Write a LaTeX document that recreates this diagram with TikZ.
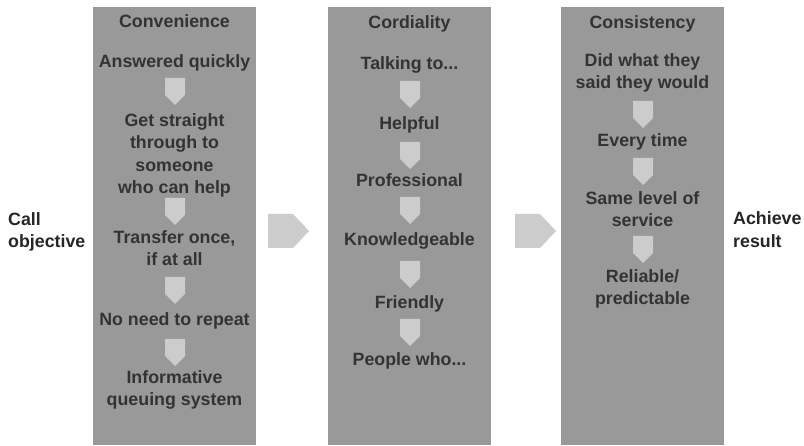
\documentclass[tikz,border=0pt]{standalone}
\usepackage{fontspec}
\setmainfont{Liberation Sans}
\definecolor{colgray}{HTML}{999999}
\definecolor{tipgray}{HTML}{CCCCCC}
\definecolor{ink}{HTML}{333333}
\definecolor{outink}{HTML}{262626}
\begin{document}
\begin{tikzpicture}[x=1pt,y=-1pt,
  % multi-line labels are placed by the baseline of their last line
  lbl/.style={font=\fontsize{17.8}{22.3}\selectfont\bfseries, text=ink,
    inner sep=0pt, align=center, anchor=base},
  outer/.style={lbl, text=outink, align=left, anchor=base west},
  stagecol/.style={fill=colgray},
  downtip/.pic={\fill[tipgray] (-10,0) -- (10,0) -- (10,17) -- (0,27) -- (-10,17) -- cycle;},
  bigtip/.pic={\fill[tipgray] (0,-17) -- (25,-17) -- (41,0) -- (25,17) -- (0,17) -- cycle;}
]
\useasboundingbox (0,0) rectangle (804,446);
\fill[white] (0,0) rectangle (804,446);

% the three stage columns
\fill[stagecol] (93,7) rectangle (256,445);
\fill[stagecol] (328,7) rectangle (491,445);
\fill[stagecol] (561,7) rectangle (724,445);

% outer labels
\node[outer] (call) at (8,247.8) {Call\\objective};
\node[outer] (achieve) at (733,247.3) {Achieve\\result};

% arrows between the columns
\pic at (268,231) {bigtip};
\pic at (515,231) {bigtip};

% Convenience
\node[lbl] (conv) at (174.5,28) {Convenience};
\node[lbl] (c1) at (174.5,68) {Answered quickly};
\pic at (175,78) {downtip};
\node[lbl] (c2) at (174.5,193.5) {Get straight\\through to\\someone\\who can help};
\pic at (175,198) {downtip};
\node[lbl] (c3) at (174.5,266) {Transfer once,\\if at all};
\pic at (175,277) {downtip};
\node[lbl] (c4) at (174.5,325.5) {No need to repeat};
\pic at (175,339) {downtip};
\node[lbl] (c5) at (174.5,405.5) {Informative\\queuing system};

% Cordiality
\node[lbl] (cord) at (409.5,29) {Cordiality};
\node[lbl] (d1) at (409.5,69.5) {Talking to...};
\pic at (410,81) {downtip};
\node[lbl] (d2) at (409.5,130) {Helpful};
\pic at (410,142) {downtip};
\node[lbl] (d3) at (409.5,187) {Professional};
\pic at (410,197) {downtip};
\node[lbl] (d4) at (409.5,246) {Knowledgeable};
\pic at (410,261) {downtip};
\node[lbl] (d5) at (409.5,308.5) {Friendly};
\pic at (410,319) {downtip};
\node[lbl] (d6) at (409.5,366) {People who...};

% Consistency
\node[lbl] (cons) at (642.5,28.5) {Consistency};
\node[lbl] (s1) at (642.5,89) {Did what they\\said they would};
\pic at (643,101) {downtip};
\node[lbl] (s2) at (642.5,146.7) {Every time};
\pic at (643,158) {downtip};
\node[lbl] (s3) at (642.5,227) {Same level of\\service};
\pic at (643,236) {downtip};
\node[lbl] (s4) at (642.5,304.7) {Reliable/\\predictable};
\end{tikzpicture}
\end{document}
